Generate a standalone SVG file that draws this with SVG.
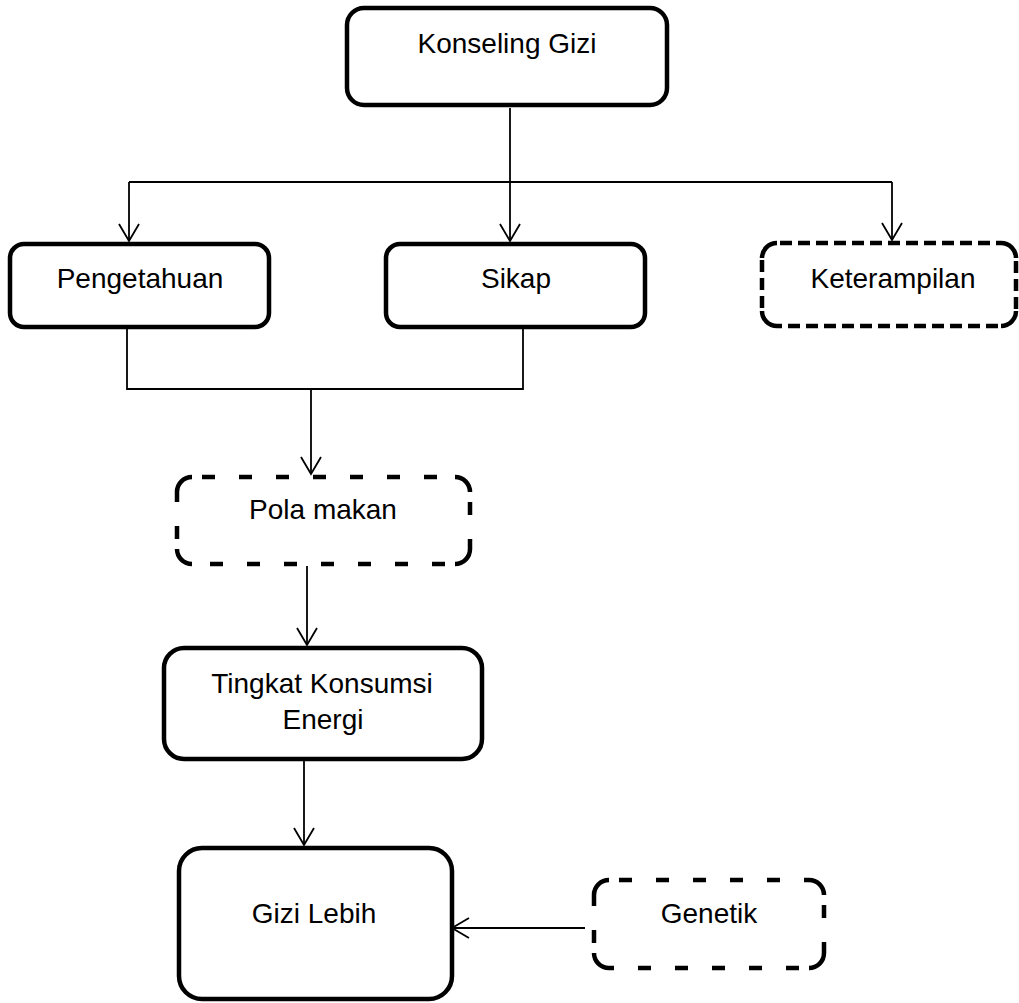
<svg xmlns="http://www.w3.org/2000/svg" width="1019" height="1003" viewBox="0 0 1019 1003">
<defs>
<marker id="arr" markerUnits="userSpaceOnUse" markerWidth="22" markerHeight="24" viewBox="0 0 22 24" refX="18" refY="12" orient="auto">
<path d="M1,2 L18,12 L1,22" fill="none" stroke="#000" stroke-width="1.8"/>
</marker>
</defs>
<style>
.box{fill:#fff;stroke:#000;stroke-width:4.5}
.corner{fill:none;stroke:#000;stroke-width:4.5}
.dashA{fill:none;stroke:#000;stroke-width:4.5;stroke-dasharray:13 24;stroke-dashoffset:27}
.dashB{fill:none;stroke:#000;stroke-width:4.5;stroke-dasharray:12 6;stroke-dashoffset:15}
.lbl{font-family:"Liberation Sans",Arial,sans-serif;font-size:28px;fill:#000;text-anchor:middle}
.con{fill:none;stroke:#000;stroke-width:1.8}
</style>
<rect width="1019" height="1003" fill="#fff"/>
<g id="connectors">
<path class="con" d="M510,108 V241" marker-end="url(#arr)"/>
<path class="con" d="M129,182 H892"/>
<path class="con" d="M129,182 V241" marker-end="url(#arr)"/>
<path class="con" d="M892,182 V240" marker-end="url(#arr)"/>
<path class="con" d="M127,329 V389 H523 V329"/>
<path class="con" d="M311,389 V474" marker-end="url(#arr)"/>
<path class="con" d="M307,566 V645" marker-end="url(#arr)"/>
<path class="con" d="M304,760 V845" marker-end="url(#arr)"/>
<path class="con" d="M585,928 H452" marker-end="url(#arr)"/>
</g>
<g id="konseling-gizi">
<rect class="box" x="347" y="8" width="320" height="97" rx="17"/>
<text class="lbl" x="507" y="53">Konseling Gizi</text>
</g>
<g id="pengetahuan">
<rect class="box" x="10" y="244" width="259" height="83" rx="14"/>
<text class="lbl" x="140" y="288">Pengetahuan</text>
</g>
<g id="sikap">
<rect class="box" x="386" y="244" width="259" height="83" rx="14"/>
<text class="lbl" x="516" y="288">Sikap</text>
</g>
<g id="keterampilan">
<path class="corner" d="M762,258 A15,15 0 0 1 777,243 M1001,243 A15,15 0 0 1 1016,258 M1016,311 A15,15 0 0 1 1001,326 M777,326 A15,15 0 0 1 762,311"/>
<path class="dashB" d="M777,243 H1001 M1016,258 V311 M1001,326 H777 M762,311 V258"/>
<text class="lbl" x="893" y="288">Keterampilan</text>
</g>
<g id="pola-makan">
<path class="corner" d="M177,492 A15,15 0 0 1 192,477 M455,477 A15,15 0 0 1 470,492 M470,549 A15,15 0 0 1 455,564 M192,564 A15,15 0 0 1 177,549"/>
<path class="dashA" d="M192,477 H455 M470,492 V549 M455,564 H192 M177,549 V492"/>
<text class="lbl" x="323" y="519">Pola makan</text>
</g>
<g id="tingkat-konsumsi-energi">
<rect class="box" x="164" y="648" width="318" height="111" rx="20"/>
<text class="lbl" x="322" y="693">Tingkat Konsumsi</text>
<text class="lbl" x="323" y="729">Energi</text>
</g>
<g id="gizi-lebih">
<rect class="box" x="179" y="848" width="273" height="151" rx="23"/>
<text class="lbl" x="314" y="923">Gizi Lebih</text>
</g>
<g id="genetik">
<path class="corner" d="M594,895 A15,15 0 0 1 609,880 M809,880 A15,15 0 0 1 824,895 M824,953 A15,15 0 0 1 809,968 M609,968 A15,15 0 0 1 594,953"/>
<path class="dashA" d="M609,880 H809 M824,895 V953 M809,968 H609 M594,953 V895"/>
<text class="lbl" x="709" y="923">Genetik</text>
</g>
</svg>
